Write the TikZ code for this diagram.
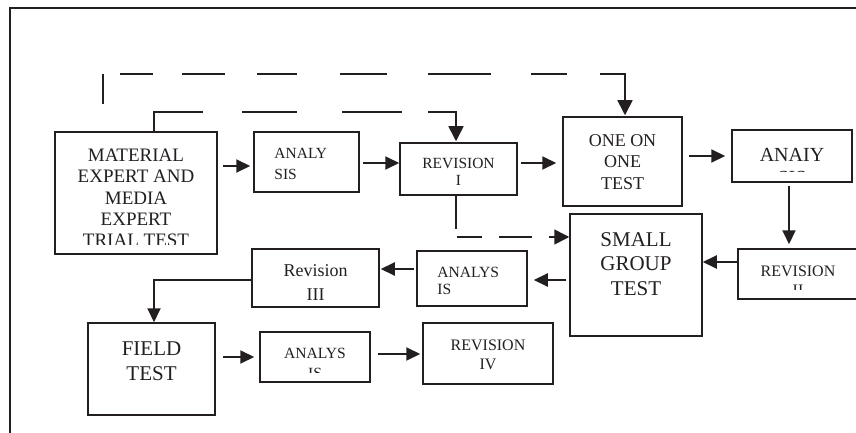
\documentclass[tikz,border=0pt]{standalone}
\usepackage{fontspec}
\setmainfont{Liberation Serif}
\usetikzlibrary{arrows.meta,calc}
\definecolor{ink}{RGB}{35,31,32}
\tikzset{
  box/.style={draw=ink, line width=1.5pt, rectangle, inner sep=0pt, fill=white},
  arr/.style={draw=ink, line width=2pt, -{Triangle[length=14pt,width=13pt]}},
  dsh/.style={draw=ink, line width=1.6pt},
  darr/.style={dsh, -{Triangle[length=15pt,width=15pt]}},
  txt/.style={text=ink, inner sep=0pt, align=center, anchor=north},
  ltxt/.style={text=ink, inner sep=0pt, align=left, anchor=north west},
  frame/.style={draw=ink, line width=1.4pt}
}
\newcommand{\fs}[2]{\fontsize{#1}{#2}\selectfont}
\begin{document}
\begin{tikzpicture}[x=1pt,y=-1pt]
\useasboundingbox (0,0) rectangle (856,433);
\draw[frame] (10,433) -- (10,8) -- (856,8);

% boxes
\node[box, minimum width=162pt, minimum height=122pt] (mat) at (136,193) {};
\node[box, minimum width=105pt, minimum height=60pt] (analy) at (306.5,162) {};
\node[box, minimum width=117pt, minimum height=52pt] (rev1) at (458.5,169) {};
\node[box, minimum width=119pt, minimum height=89pt] (one) at (622.5,161.5) {};
\node[box, minimum width=120pt, minimum height=52pt] (anaiy) at (792,156) {};
\node[box, minimum width=132pt, minimum height=122pt] (small) at (636,275) {};
\node[box, minimum width=120pt, minimum height=50pt] (rev2) at (798,274) {};
\node[box, minimum width=110pt, minimum height=55pt] (an2) at (472,278.5) {};
\node[box, minimum width=127pt, minimum height=58pt] (rev3) at (315.5,278) {};
\node[box, minimum width=127pt, minimum height=92pt] (field) at (151.5,369) {};
\node[box, minimum width=110pt, minimum height=50pt] (an3) at (315,357) {};
\node[box, minimum width=130pt, minimum height=61pt] (rev4) at (488,353.5) {};

% texts
\begin{scope}
  \clip (mat.north west) rectangle ($(mat.south east)+(0,-10)$);
  \node[txt, font=\fs{19}{21.3}] (matT) at ($(mat.north)+(0,17.5)$) {MATERIAL\\EXPERT AND\\MEDIA\\EXPERT\\TRIAL TEST};
\end{scope}
\node[ltxt, font=\fs{15.5}{21}] (analyT) at ($(analy.north west)+(21,17)$) {ANALY\\SIS};
\node[txt, font=\fs{15.5}{17}] (rev1T) at ($(rev1.north)+(0,16)$) {REVISION\\I};
\node[txt, font=\fs{18}{21.5}] (oneT) at ($(one.north)+(0,18)$) {ONE ON\\ONE\\TEST};
\begin{scope}
  \clip (anaiy.north west) rectangle ($(anaiy.south east)+(0,-11)$);
  \node[txt, font=\fs{20}{22.5}] (anaiyT) at ($(anaiy.north)+(0,19)$) {ANAIY\\SIS};
\end{scope}
\node[txt, font=\fs{21}{24.5}] (smallT) at ($(small.north)+(0,19)$) {SMALL\\GROUP\\TEST};
\begin{scope}
  \clip (rev2.north west) rectangle ($(rev2.south east)+(0,-10)$);
  \node[txt, font=\fs{16}{19}] (rev2T) at ($(rev2.north)+(0,17)$) {REVISION\\II};
\end{scope}
\node[ltxt, font=\fs{15.6}{17}] (an2T) at ($(an2.north west)+(21,17)$) {ANALYS\\IS};
\node[txt, font=\fs{18}{24.5}] (rev3T) at ($(rev3.north)+(0,16)$) {Revision\\III};
\node[txt, font=\fs{21}{25}] (fieldT) at ($(field.north)+(0,19)$) {FIELD\\TEST};
\begin{scope}
  \clip (an3.north west) rectangle ($(an3.south east)+(0,-10)$);
  \node[txt, font=\fs{15.6}{20}] (an3T) at ($(an3.north)+(0,17)$) {ANALYS\\IS};
\end{scope}
\node[txt, font=\fs{16}{19}] (rev4T) at ($(rev4.north)+(0,17)$) {REVISION\\IV};

% solid arrows
\draw[arr] ($(mat.east |- analy.west)+(5,4)$) -- ($(analy.west)+(-3,4)$);
\draw[arr] ($(analy.east)+(3,1)$) -- ($(rev1.west |- analy.east)+(0,1)$);
\draw[arr] ($(rev1.east)+(3,-6)$) -- ($(one.west)+(-6,1.5)$);
\draw[arr] ($(one.east |- anaiy.west)+(6,0)$) -- ($(anaiy.west)+(-6,0)$);
\draw[arr] ($(anaiy.south)+(-3,3)$) -- ($(anaiy.south |- rev2.north)+(-3,-4)$);
\draw[arr] ($(rev2.west)+(0,-12)$) -- ($(small.east)+(0,-13)$);
\draw[arr] ($(small.west)+(-3,5)$) -- ($(an2.east)+(6,1.5)$);
\draw[arr] ($(an2.west)+(-2,-9.5)$) -- ($(rev3.east)+(1,-9)$);
\draw[arr] ($(rev3.west)+(0,2)$) -| ($(field.north)+(2.5,0)$);
\draw[arr] ($(field.east |- an3.west)+(7,0)$) -- ($(an3.west)+(-5,0)$);
\draw[arr] ($(an3.east)+(7,-3)$) -- ($(rev4.west)+(-2,0.5)$);

% dashed feedback lines
\coordinate (dstart) at (103,104);
\draw[darr, dash pattern=on 30pt off 17pt on 33pt off 29pt on 43pt off 32pt on 40pt off 43pt on 47pt off 41pt on 63pt off 40pt on 36pt off 33pt on 400pt]
  (dstart) -- ++(0,-30) -| ($(one.north)+(2.5,-1)$);
\draw[darr, dash pattern=on 68pt off 39pt on 55pt off 45pt on 60pt off 26pt on 400pt]
  ($(mat.north)+(18,0)$) -- ++(0,-19) -| ($(rev1.north)+(-2.5,-1)$);
\draw[darr, dash pattern=on 33pt off 9pt on 25pt off 17pt on 33pt off 17pt on 400pt]
  ($(rev1.south)+(-2.5,0)$) |- ($(small.west)+(0,-38)$);
\end{tikzpicture}
\end{document}
